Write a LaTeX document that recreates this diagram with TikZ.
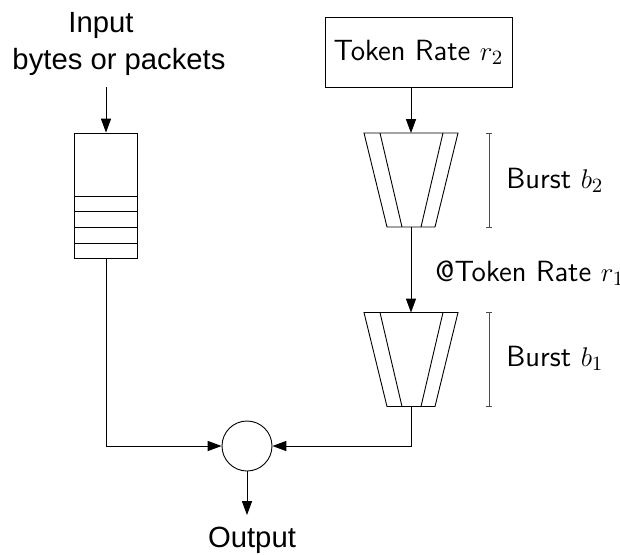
\documentclass[tikz,border=0pt]{standalone}
\usepackage{fontspec}
\newfontfamily\arialfont{Liberation Sans}
\usepackage{tikz}
\usetikzlibrary{arrows.meta,positioning,calc}
\tikzset{>={Triangle[length=6.2pt,width=4.5pt]},
  every path/.style={line width=.4pt},
  plain/.style={font=\arialfont\fontsize{13}{15}\selectfont,inner sep=0pt},
  lbl/.style={font=\sffamily\fontsize{13}{15}\selectfont,inner sep=0pt},
  ratebox/.style={draw,font=\sffamily\fontsize{13}{15}\selectfont,minimum width=187*.4444pt,minimum height=70*.4444pt},
  queuebox/.style={draw,minimum width=63*.4444pt,minimum height=125*.4444pt,inner sep=0pt},
  joint/.style={draw,circle,minimum size=50*.4444pt,inner sep=0pt},
  arr/.style={->},
  pics/bucket/.style={code={
    \draw (-47,-47) -- (47,-47) -- (24,47) -- (-24,47) -- cycle;
    \draw (-31,-47) -- (-9,47) (32,-47) -- (10,47);
    \coordinate (-top) at (0,-47);
    \coordinate (-bot) at (0,47);
    \draw[black!70] (78,-47) -- (78,47) (75,-47) -- (81,-47) (75,47) -- (81,47);
  }}}

\begin{document}
\begin{tikzpicture}[x=.4444pt,y=-.4444pt]
\useasboundingbox (0,0) rectangle (620,554);
% input side
\node[plain,anchor=base] (intitle) at (101,32) {Input};
\node[plain,anchor=base] (inlabel) at (119,69) {bytes or packets};
\coordinate (instart) at (106,87);
\node[queuebox] (queue) at (106,195.5) {};
\foreach \y in {196,211,227,243}
  \draw (queue.west |- 0,\y) -- (queue.east |- 0,\y);
% token buckets
\node[ratebox] (rate2) at (418.5,52) {Token Rate $r_2$};
\pic (bk2) at (411,180) {bucket};
\pic (bk1) at (411,359.5) {bucket};
\node[lbl,anchor=west] (burst2) at (506,180) {Burst $b_2$};
\node[lbl,anchor=west] (rate1) at (435,273) {@Token Rate $r_1$};
\node[lbl,anchor=west] (burst1) at (506,358) {Burst $b_1$};
% output
\node[joint] (join) at (247,446) {};
\node[plain,anchor=base] (out) at (252,547) {Output};
\coordinate (outend) at (247,515);
\draw[arr] (instart) -- (queue.north);
\draw[arr] (rate2.south -| bk2-top) -- (bk2-top);
\draw[arr] (bk2-bot) -- (bk1-top);
\draw[arr] (queue.south) |- (join.west);
\draw[arr] (bk1-bot) |- (join.east);
\draw[arr] (join.south) -- (outend);
\end{tikzpicture}
\end{document}
